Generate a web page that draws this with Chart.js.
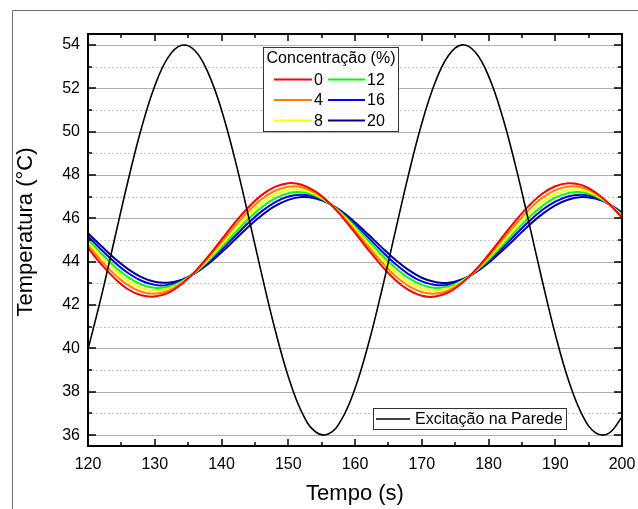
<!DOCTYPE html>
<html>
<head>
<meta charset="utf-8">
<script src="https://cdn.jsdelivr.net/npm/chart.js@4.4.1/dist/chart.umd.min.js"></script>
<style>
  html, body { margin: 0; padding: 0; background: #fff; }
  #chart { display: block; }
</style>
</head>
<body>
<canvas id="chart" width="638" height="509"></canvas>
<script>
// ===================================
// DATA
// ===================================

const tempo = [120, 122, 124, 126, 128, 130, 132, 134, 136, 138,
               140, 142, 144, 146, 148, 150, 152, 154, 156, 158,
               160, 162, 164, 166, 168, 170, 172, 174, 176, 178,
               180, 182, 184, 186, 188, 190, 192, 194, 196, 198, 200];

const excitacao = [39.96, 42.40, 45.07, 47.73, 50.15, 52.10, 53.42, 53.98, 53.74, 52.71,
                   51.00, 48.74, 46.15, 43.45, 40.90, 38.71, 37.08, 36.17, 36.05, 36.73,
                   38.15, 40.19, 42.66, 45.34, 47.99, 50.37, 52.26, 53.51, 54.00, 53.67,
                   52.57, 50.79, 48.49, 45.88, 43.19, 40.66, 38.52, 36.96, 36.12, 36.08, 36.84];

const conc0 = [44.63, 43.88, 43.23, 42.73, 42.45, 42.39, 42.56, 42.96, 43.53, 44.24,
               45.02, 45.80, 46.50, 47.07, 47.45, 47.62, 47.55, 47.25, 46.75, 46.09,
               45.33, 44.55, 43.81, 43.17, 42.70, 42.43, 42.39, 42.59, 43.01, 43.60,
               44.32, 45.10, 45.87, 46.56, 47.12, 47.48, 47.62, 47.53, 47.20, 46.69, 46.02];

const conc4 = [44.76, 44.04, 43.41, 42.92, 42.61, 42.52, 42.66, 43.00, 43.52, 44.17,
               44.90, 45.64, 46.32, 46.88, 47.27, 47.46, 47.43, 47.18, 46.74, 46.14,
               45.43, 44.69, 43.98, 43.35, 42.88, 42.60, 42.53, 42.68, 43.04, 43.58,
               44.24, 44.98, 45.71, 46.38, 46.93, 47.30, 47.47, 47.42, 47.15, 46.68, 46.07];

const conc8 = [44.90, 44.21, 43.60, 43.10, 42.78, 42.66, 42.75, 43.04, 43.50, 44.10,
               44.78, 45.48, 46.14, 46.69, 47.10, 47.31, 47.32, 47.12, 46.73, 46.18,
               45.53, 44.83, 44.15, 43.54, 43.06, 42.76, 42.66, 42.77, 43.08, 43.56,
               44.17, 44.85, 45.55, 46.20, 46.74, 47.13, 47.32, 47.31, 47.09, 46.68, 46.12];

const conc12 = [45.04, 44.38, 43.78, 43.29, 42.95, 42.80, 42.84, 43.08, 43.49, 44.03,
                44.67, 45.33, 45.96, 46.51, 46.92, 47.16, 47.20, 47.05, 46.72, 46.23,
                45.63, 44.97, 44.32, 43.73, 43.25, 42.93, 42.79, 42.86, 43.11, 43.54,
                44.09, 44.73, 45.39, 46.02, 46.55, 46.95, 47.17, 47.20, 47.03, 46.67, 46.17];

const conc16 = [45.17, 44.55, 43.97, 43.48, 43.12, 42.93, 42.93, 43.12, 43.47, 43.96,
                44.55, 45.17, 45.78, 46.32, 46.74, 47.01, 47.09, 46.99, 46.71, 46.27,
                45.73, 45.11, 44.49, 43.91, 43.43, 43.09, 42.93, 42.94, 43.15, 43.52,
                44.02, 44.61, 45.23, 45.84, 46.37, 46.77, 47.02, 47.09, 46.97, 46.67, 46.22];

const conc20 = [45.31, 44.72, 44.15, 43.66, 43.29, 43.07, 43.03, 43.16, 43.46, 43.89,
                44.43, 45.01, 45.60, 46.13, 46.56, 46.85, 46.98, 46.92, 46.70, 46.32,
                45.82, 45.25, 44.66, 44.10, 43.62, 43.26, 43.06, 43.03, 43.18, 43.49,
                43.94, 44.49, 45.07, 45.66, 46.18, 46.60, 46.87, 46.98, 46.91, 46.67, 46.27];

const concLabels = ['0', '4', '8', '12', '16', '20'];
const concSeries = [conc0, conc4, conc8, conc12, conc16, conc20];

const xTicks = [120, 130, 140, 150, 160, 170, 180, 190, 200];
const xMinorTicks = [125, 135, 145, 155, 165, 175, 185, 195];
const yTicks = [36, 38, 40, 42, 44, 46, 48, 50, 52, 54];
const yMinorTicks = [37, 39, 41, 43, 45, 47, 49, 51, 53];

// ===================================
// STYLE
// ===================================

const FONT = "'Liberation Sans', Arial, sans-serif";
const concColors = ['#ff0000', '#ff8000', '#ffff00', '#00ff00', '#0000ff', '#000099'];

function toPoints(values) {
    return tempo.map((t, i) => ({ x: t, y: values[i] }));
}

const datasets = [{
    label: 'Excitação na Parede',
    data: toPoints(excitacao),
    borderColor: '#000',
    borderWidth: 1.6
}];
concSeries.forEach((serie, i) => {
    datasets.push({
        label: concLabels[i],
        data: toPoints(serie),
        borderColor: concColors[i],
        borderWidth: 2
    });
});

// frame, grid, inward ticks, y title and the two boxed legends
const framePlugin = {
    id: 'frame',
    beforeDraw(chart) {
        const ctx = chart.ctx;
        ctx.save();
        ctx.fillStyle = '#fff';
        ctx.fillRect(0, 0, chart.width, chart.height);
        ctx.strokeStyle = '#707070';
        ctx.lineWidth = 1;
        ctx.beginPath();
        ctx.moveTo(12.5, chart.height);
        ctx.lineTo(12.5, 10.5);
        ctx.lineTo(chart.width, 10.5);
        ctx.stroke();
        ctx.restore();
    },
    beforeDatasetsDraw(chart) {
        const { ctx, chartArea: a, scales: { y } } = chart;
        ctx.save();
        ctx.lineWidth = 1;
        ctx.strokeStyle = '#c4c4c4';
        ctx.setLineDash([2, 2]);
        yMinorTicks.forEach(v => {
            const py = Math.round(y.getPixelForValue(v)) + 0.5;
            ctx.beginPath();
            ctx.moveTo(a.left, py);
            ctx.lineTo(a.right, py);
            ctx.stroke();
        });
        ctx.setLineDash([]);
        ctx.strokeStyle = '#b0b0b0';
        yTicks.forEach(v => {
            const py = Math.round(y.getPixelForValue(v)) + 0.5;
            ctx.beginPath();
            ctx.moveTo(a.left, py);
            ctx.lineTo(a.right, py);
            ctx.stroke();
        });
        ctx.restore();
    },
    afterDatasetsDraw(chart) {
        const { ctx, chartArea: a, scales: { x, y } } = chart;
        ctx.save();
        ctx.strokeStyle = '#000';
        ctx.lineWidth = 2;
        ctx.strokeRect(a.left, a.top, a.right - a.left, a.bottom - a.top);

        const tick = (x1, y1, x2, y2) => {
            ctx.beginPath();
            ctx.moveTo(x1, y1);
            ctx.lineTo(x2, y2);
            ctx.stroke();
        };
        ctx.lineWidth = 1.5;
        xTicks.forEach(v => {
            const px = Math.round(x.getPixelForValue(v));
            tick(px, a.bottom, px, a.bottom - 7);
            tick(px, a.top, px, a.top + 7);
        });
        xMinorTicks.forEach(v => {
            const px = Math.round(x.getPixelForValue(v));
            tick(px, a.bottom, px, a.bottom - 4);
            tick(px, a.top, px, a.top + 4);
        });
        yTicks.forEach(v => {
            const py = Math.round(y.getPixelForValue(v));
            tick(a.left, py, a.left + 8, py);
            tick(a.right, py, a.right - 8, py);
        });
        yMinorTicks.forEach(v => {
            const py = Math.round(y.getPixelForValue(v));
            tick(a.left, py, a.left + 4, py);
            tick(a.right, py, a.right - 4, py);
        });
        ctx.restore();
    },
    afterDraw(chart) {
        const ctx = chart.ctx;
        const sets = chart.data.datasets;
        ctx.save();

        // Y axis title (sits a little above the plot centre in the original)
        ctx.save();
        ctx.translate(26, 232);
        ctx.rotate(-Math.PI / 2);
        ctx.font = '22px ' + FONT;
        ctx.fillStyle = '#000';
        ctx.textAlign = 'center';
        ctx.textBaseline = 'middle';
        ctx.fillText('Temperatura (°C)', 0, 0);
        ctx.restore();

        ctx.font = '16px ' + FONT;
        ctx.textBaseline = 'middle';

        // Concentration legend
        ctx.fillStyle = '#fff';
        ctx.fillRect(263.5, 47.5, 135, 84);
        ctx.strokeStyle = '#333';
        ctx.lineWidth = 1;
        ctx.strokeRect(263.5, 47.5, 135, 84);
        ctx.fillStyle = '#000';
        ctx.textAlign = 'center';
        ctx.fillText('Concentração (%)', 331, 59);
        ctx.textAlign = 'left';
        const rows = [79.5, 100, 120.5];
        const cols = [{ x1: 274, x2: 312, tx: 314 }, { x1: 328, x2: 365, tx: 367 }];
        for (let i = 0; i < 6; i++) {
            const c = cols[Math.floor(i / 3)];
            const r = rows[i % 3];
            ctx.strokeStyle = sets[i + 1].borderColor;
            ctx.lineWidth = 2;
            ctx.beginPath();
            ctx.moveTo(c.x1, r);
            ctx.lineTo(c.x2, r);
            ctx.stroke();
            ctx.fillText(sets[i + 1].label, c.tx, r + 1);
        }

        // Excitation legend
        ctx.fillStyle = '#fff';
        ctx.fillRect(373.5, 408.5, 193, 21);
        ctx.strokeStyle = '#333';
        ctx.lineWidth = 1;
        ctx.strokeRect(373.5, 408.5, 193, 21);
        ctx.strokeStyle = sets[0].borderColor;
        ctx.lineWidth = 1.6;
        ctx.beginPath();
        ctx.moveTo(376, 419);
        ctx.lineTo(410, 419);
        ctx.stroke();
        ctx.fillStyle = '#000';
        ctx.fillText(sets[0].label, 415, 420);
        ctx.restore();
    }
};

new Chart(document.getElementById('chart').getContext('2d'), {
    type: 'line',
    data: { datasets },
    options: {
        responsive: false,
        animation: false,
        devicePixelRatio: 1,
        layout: { padding: { top: 34, right: 16, left: 0, bottom: 0 } },
        elements: {
            point: { radius: 0 },
            line: { tension: 0.4 }
        },
        plugins: {
            legend: { display: false },
            tooltip: { enabled: false }
        },
        scales: {
            x: {
                type: 'linear',
                min: 120,
                max: 200,
                grid: { display: false, drawTicks: false },
                border: { display: false },
                afterBuildTicks: s => { s.ticks = xTicks.map(v => ({ value: v })); },
                afterFit: s => {
                    s.height = 63;
                    s.paddingLeft = 0;
                    s.paddingRight = 0;
                },
                ticks: {
                    color: '#000',
                    font: { family: FONT, size: 16 },
                    padding: 9,
                    maxRotation: 0,
                    autoSkip: false
                },
                title: {
                    display: true,
                    text: 'Tempo (s)',
                    color: '#000',
                    font: { family: FONT, size: 22 },
                    padding: { top: 0, bottom: 2 }
                }
            },
            y: {
                type: 'linear',
                min: 35.5,
                max: 54.5,
                grid: { display: false, drawTicks: false },
                border: { display: false },
                afterBuildTicks: s => { s.ticks = yTicks.map(v => ({ value: v })); },
                afterFit: s => {
                    s.width = 88;
                    s.paddingTop = 0;
                    s.paddingBottom = 0;
                },
                ticks: {
                    color: '#000',
                    font: { family: FONT, size: 16 },
                    padding: 8
                }
            }
        }
    },
    plugins: [framePlugin]
});
</script>
</body>
</html>
